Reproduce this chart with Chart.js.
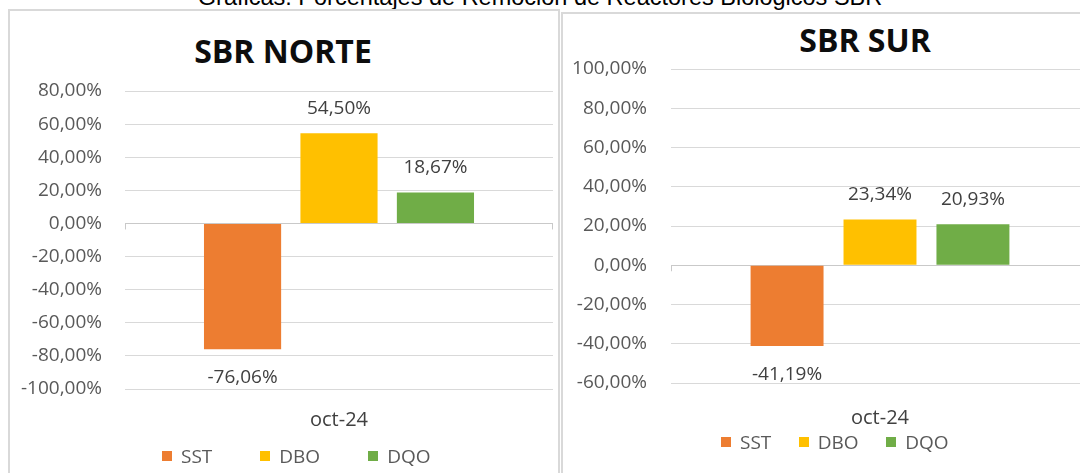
<!DOCTYPE html>
<html>
<head>
<meta charset="utf-8">
<script src="https://cdn.jsdelivr.net/npm/chart.js@4.4.1/dist/chart.umd.min.js"></script>
<style>
  html, body { margin: 0; padding: 0; background: #fff; }
  body { width: 1080px; height: 473px; overflow: hidden; position: relative; font-family: "Open Sans", sans-serif; }
  .box { position: absolute; border: 2px solid #d9d9d9; box-sizing: border-box; }
  .pageTitle { position: absolute; left: 0; width: 1080px; top: -14px; text-align: center;
    font-family: "Liberation Sans", Arial, sans-serif; font-size: 23.5px; line-height: 23.5px; color: #000; white-space: nowrap; }
  .chartTitle { position: absolute; width: 400px; text-align: center; font-weight: 700;
    font-size: 32px; line-height: 32px; color: #0d0d0d; white-space: nowrap; }
  .legend { position: absolute; display: flex; align-items: center; font-size: 19px; line-height: 20px; color: #595959; white-space: nowrap; }
  .legend .item { display: flex; align-items: center; }
  .legend .sw { width: 10px; height: 10px; margin-right: 9px; }
  canvas { position: absolute; }
</style>
</head>
<body>
<div class="pageTitle">Gráficas: Porcentajes de Remoción de Reactores Biológicos SBR</div>
<div class="box" style="left:8px; top:9px; width:552px; height:520px;"></div>
<div class="box" style="left:561px; top:12px; width:620px; height:520px;"></div>
<div class="chartTitle" style="left:83px; top:34.5px;">SBR NORTE</div>
<div class="chartTitle" style="left:665px; top:23.5px;">SBR SUR</div>
<canvas id="norteChart" style="left:9px; top:10px;"></canvas>
<canvas id="surChart" style="left:561px; top:13px;"></canvas>
<div id="norteLegend" class="legend" style="left:162px; top:446px; gap:48px;"></div>
<div id="surLegend" class="legend" style="left:721px; top:432px; gap:27.5px;"></div>

<script>
// data
const categories = ["oct-24"];
const seriesNames = ["SST", "DBO", "DQO"];
const seriesColors = ["#ED7D31", "#FFC000", "#70AD47"];
const norteValues = [-76.06, 54.50, 18.67];
const surValues = [-41.19, 23.34, 20.93];
const norteTicks = [-100, -80, -60, -40, -20, 0, 20, 40, 60, 80];
const surTicks = [-60, -40, -20, 0, 20, 40, 60, 80, 100];

Chart.defaults.font.family = "'Open Sans', sans-serif";
Chart.defaults.animation = false;

function pct(v) {
  return v.toFixed(2).replace(".", ",") + "%";
}

// value labels above / below each bar
const valueLabels = {
  id: "valueLabels",
  afterDatasetsDraw(chart) {
    const ctx = chart.ctx;
    ctx.save();
    ctx.font = "19px 'Open Sans', sans-serif";
    ctx.fillStyle = "#404040";
    ctx.textAlign = "center";
    ctx.textBaseline = "middle";
    chart.data.datasets.forEach((ds, i) => {
      chart.getDatasetMeta(i).data.forEach((bar, j) => {
        const v = ds.data[j];
        const y = v >= 0 ? bar.y - 25 : bar.y + 28.5;
        ctx.fillText(pct(v), bar.x, y);
      });
    });
    ctx.restore();
  }
};

// small tick marks where the zero line meets the plot edges
const zeroTicks = {
  id: "zeroTicks",
  afterDraw(chart) {
    const ctx = chart.ctx;
    const y0 = chart.scales.y.getPixelForValue(0);
    const a = chart.chartArea;
    ctx.save();
    ctx.strokeStyle = "#c9c9c9";
    ctx.lineWidth = 1;
    ctx.beginPath();
    ctx.moveTo(a.left + 0.5, y0);
    ctx.lineTo(a.left + 0.5, y0 + 6);
    ctx.moveTo(a.right - 0.5, y0);
    ctx.lineTo(a.right - 0.5, y0 + 6);
    ctx.stroke();
    ctx.restore();
  }
};

function makeChart(id, values, ticks, cfg) {
  const canvas = document.getElementById(id);
  canvas.width = cfg.w;
  canvas.height = cfg.h;
  canvas.style.width = cfg.w + "px";
  canvas.style.height = cfg.h + "px";

  const datasets = seriesNames.map((name, i) => ({
    label: name,
    data: [values[i]],
    backgroundColor: seriesColors[i],
    borderWidth: 0,
    categoryPercentage: cfg.catPct,
    barPercentage: cfg.barPct
  }));

  return new Chart(canvas, {
    type: "bar",
    data: { labels: categories, datasets },
    options: {
      responsive: false,
      layout: { padding: cfg.padding },
      plugins: {
        title: { display: false },
        tooltip: { enabled: false },
        legend: { display: false }
      },
      scales: {
        x: {
          grid: { display: false },
          border: { display: false },
          ticks: { color: "#404040", font: { size: 20 }, padding: cfg.xPad },
          afterFit: s => { s.height = cfg.xHeight; }
        },
        y: {
          min: ticks[0],
          max: ticks[ticks.length - 1],
          afterBuildTicks: s => { s.ticks = ticks.map(v => ({ value: v })); },
          afterFit: s => { s.width = cfg.yWidth; },
          grid: {
            color: ctx => ctx.tick && ctx.tick.value === 0 ? "#c9c9c9" : "#d9d9d9",
            drawTicks: false
          },
          border: { display: false },
          ticks: {
            color: "#595959",
            font: { size: 19 },
            padding: cfg.yPad,
            callback: v => pct(v)
          }
        }
      }
    },
    plugins: [valueLabels, zeroTicks]
  });
}

function buildLegend(id, chart) {
  const el = document.getElementById(id);
  chart.data.datasets.forEach(ds => {
    const item = document.createElement("span");
    item.className = "item";
    const sw = document.createElement("span");
    sw.className = "sw";
    sw.style.background = ds.backgroundColor;
    item.appendChild(sw);
    item.appendChild(document.createTextNode(ds.label));
    el.appendChild(item);
  });
}

const norteChart = makeChart("norteChart", norteValues, norteTicks, {
  w: 560, h: 440,
  padding: { top: 81, left: 0, right: 16, bottom: 11 },
  yWidth: 116, yPad: 23,
  xHeight: 50, xPad: 11,
  catPct: 0.676, barPct: 0.8
});

const surChart = makeChart("surChart", surValues, surTicks, {
  w: 548, h: 430,
  padding: { top: 56, left: 0, right: 20, bottom: 10 },
  yWidth: 110, yPad: 24,
  xHeight: 50, xPad: 15,
  catPct: 0.667, barPct: 0.785
});

buildLegend("norteLegend", norteChart);
buildLegend("surLegend", surChart);
</script>
</body>
</html>
